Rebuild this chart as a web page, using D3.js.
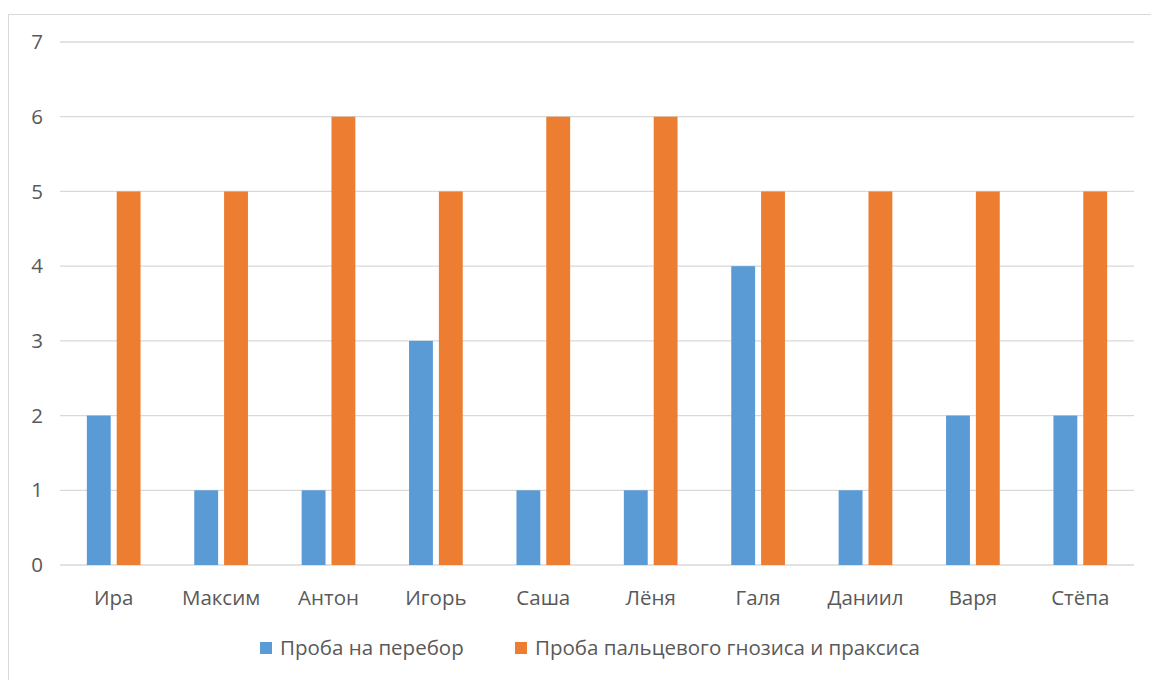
<!DOCTYPE html>
<meta charset="utf-8">
<title>Пробы</title>
<script src="https://cdnjs.cloudflare.com/ajax/libs/d3/7.8.5/d3.min.js"></script>
<style>
body { margin: 0; background: #fff; }
svg text { font-family: "Open Sans", "Noto Sans", sans-serif; fill: #595959; }
.grid line { stroke: #d9d9d9; stroke-width: 1.3; }
</style>
<svg width="1151" height="680"></svg>
<script>

var names = ["Ира", "Максим", "Антон", "Игорь", "Саша", "Лёня", "Галя", "Даниил", "Варя", "Стёпа"];
var seriesNames = ["Проба на перебор", "Проба пальцевого гнозиса и праксиса"];
var perebor = [2, 1, 1, 3, 1, 1, 4, 1, 2, 2];
var gnozis = [5, 5, 6, 5, 6, 6, 5, 5, 5, 5];
var yTicks = [0, 1, 2, 3, 4, 5, 6, 7];
var colors = ["#5b9bd5", "#ed7d31"];

var svg = d3.select("svg");

// chart frame
svg.append("rect")
    .attr("x", 8.5).attr("y", 14.5)
    .attr("width", 1160).attr("height", 700)
    .attr("fill", "none").attr("stroke", "#d9d9d9");

var plot = { left: 60, right: 1134, top: 42, bottom: 565 };

var x = d3.scaleBand().domain(names).range([plot.left, plot.right]);
var y = d3.scaleLinear().domain([0, 7]).range([plot.bottom, plot.top]);

// bars sit inside each band: ~27px pad, 24px bar, 6px gap, 24px bar
var inner = d3.scaleBand().domain([0, 1])
    .range([0, x.bandwidth()]).paddingInner(0.2).paddingOuter(0.9);

svg.append("g").attr("class", "grid")
  .selectAll("line")
  .data(yTicks)
  .enter().append("line")
    .attr("x1", plot.left).attr("x2", plot.right)
    .attr("y1", function(d) { return y(d); })
    .attr("y2", function(d) { return y(d); });

svg.append("g")
  .selectAll("text")
  .data(yTicks)
  .enter().append("text")
    .attr("x", 37)
    .attr("y", function(d) { return y(d); })
    .attr("dy", "0.35em")
    .attr("text-anchor", "middle")
    .style("font-size", "20.5px")
    .text(function(d) { return d; });

var rows = names.map(function(n, i) { return { name: n, vals: [perebor[i], gnozis[i]] }; });

var grp = svg.append("g").selectAll("g")
  .data(rows)
  .enter().append("g")
    .attr("transform", function(d) { return "translate(" + x(d.name) + ",0)"; });

grp.selectAll("rect")
  .data(function(d) { return d.vals; })
  .enter().append("rect")
    .attr("x", function(d, i) { return inner(i); })
    .attr("y", function(d) { return y(d); })
    .attr("width", inner.bandwidth())
    .attr("height", function(d) { return y(0) - y(d); })
    .attr("fill", function(d, i) { return colors[i]; });

svg.append("g")
  .selectAll("text")
  .data(names)
  .enter().append("text")
    .attr("x", function(d) { return x(d) + x.bandwidth() / 2; })
    .attr("y", 605)
    .attr("text-anchor", "middle")
    .style("font-size", "20.5px")
    .text(function(d) { return d; });

// legend
var legendX = [260, 515];
var lg = svg.append("g").selectAll("g")
  .data(seriesNames)
  .enter().append("g")
    .attr("transform", function(d, i) { return "translate(" + legendX[i] + ",642)"; });
lg.append("rect")
    .attr("width", 12).attr("height", 12)
    .attr("fill", function(d, i) { return colors[i]; });
lg.append("text")
    .attr("x", 20).attr("y", 6)
    .attr("dy", "0.35em")
    .style("font-size", "20.5px")
    .text(function(d) { return d; });

</script>
